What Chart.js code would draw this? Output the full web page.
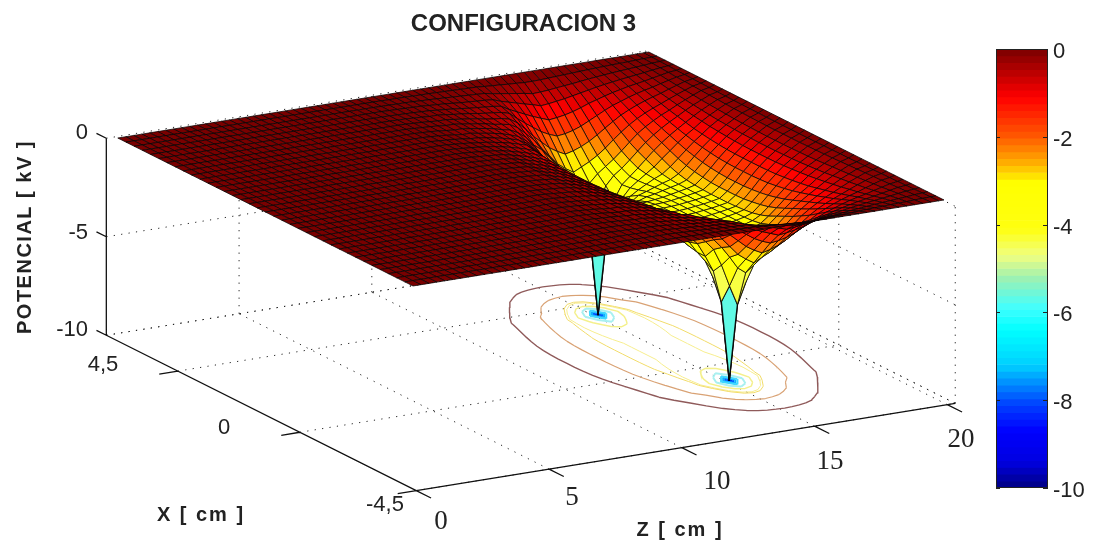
<!DOCTYPE html>
<html>
<head>
<meta charset="utf-8">
<title>CONFIGURACION 3</title>
<script src="https://cdn.jsdelivr.net/npm/chart.js@4/dist/chart.umd.min.js"></script>
<style>
  html, body { margin: 0; background: #fff; }
  #wrap { position: relative; width: 1099px; height: 546px; overflow: hidden; }
  canvas { position: absolute; }
</style>
</head>
<body>
<div id="wrap">
  <canvas id="surface" width="1099" height="546" style="left:0;top:0"></canvas>
  <canvas id="colorbar" width="109" height="480" style="left:990px;top:30px"></canvas>
</div>
<script>
const chartTitle = "CONFIGURACION 3";
const xAxisTitle = "X [ cm ]";
const zAxisTitle = "Z [ cm ]";
const vAxisTitle = "POTENCIAL [ kV ]";

// grid nodes, X is mirrored around 0 when the mesh is built
const xHalf = [0, .25, .5, .75, 1, 1.25, 1.5, 1.75, 2, 2.25, 2.5, 2.75, 3, 3.25, 3.5, 3.75, 4, 4.25, 4.5];
const zNodes = [0, .3, .6, .9, 1.2, 1.5, 1.8, 2.1, 2.4, 2.7, 3, 3.3, 3.6, 3.9, 4.2, 4.5, 4.8, 5.1, 5.4, 5.7,
  6, 6.3, 6.6, 6.9, 7.2, 7.5, 7.8, 8.1, 8.4, 8.7, 9, 9.3, 9.6, 9.9, 10.2, 10.5, 10.8, 11.1, 11.4, 11.7,
  12, 12.3, 12.6, 12.9, 13.2, 13.5, 13.8, 14.1, 14.4, 14.7, 15, 15.3, 15.6, 15.9, 16.2, 16.5, 16.8, 17.1, 17.4, 17.7,
  18, 18.3, 18.6, 18.9, 19.2, 19.5, 19.8, 20];
const wellZ = 15;

// potential in kV, one row per 0.3 cm away from Z = 15, columns follow xHalf
// this one is what the floor contours follow, the sheet uses it further down from the wells
const potentialRows = [
  [-3.3, -3.3, -3.35, -3.45, -3.6, -3.95, -4.6, -6, -10, -6, -3.9, -3, -2.1, -1.38, -.85, -.52, -.3, -.13, 0],
  [-3.3, -3.3, -3.32, -3.4, -3.55, -3.85, -4.2, -5, -6, -5, -3.6, -2.85, -2, -1.32, -.82, -.5, -.3, -.13, 0],
  [-3.25, -3.25, -3.27, -3.32, -3.42, -3.55, -3.8, -4.1, -4.4, -3.9, -3.1, -2.5, -1.85, -1.25, -.78, -.48, -.29, -.12, 0],
  [-3.2, -3.2, -3.2, -3.23, -3.28, -3.36, -3.5, -3.6, -3.6, -3.05, -2.6, -2.15, -1.62, -1.1, -.7, -.46, -.28, -.12, 0],
  [-3.14, -3.14, -3.14, -3.14, -3.14, -3.14, -3.12, -3.03, -2.9, -2.6, -2.2, -1.83, -1.4, -.95, -.62, -.42, -.26, -.11, 0],
  [-3.06, -3.06, -3.05, -3.03, -2.99, -2.93, -2.82, -2.68, -2.5, -2.2, -1.8, -1.42, -1.05, -.72, -.5, -.35, -.22, -.1, 0],
  [-2.65, -2.65, -2.64, -2.62, -2.58, -2.52, -2.42, -2.28, -2.1, -1.87, -1.55, -1.18, -.85, -.58, -.43, -.31, -.2, -.09, 0],
  [-2.28, -2.28, -2.27, -2.24, -2.18, -2.1, -1.98, -1.82, -1.6, -1.35, -1.1, -.82, -.6, -.47, -.37, -.27, -.18, -.08, 0],
  [-1.92, -1.92, -1.9, -1.86, -1.8, -1.7, -1.55, -1.38, -1.2, -1, -.8, -.6, -.5, -.42, -.34, -.25, -.16, -.07, 0],
  [-1.45, -1.44, -1.42, -1.38, -1.32, -1.22, -1.12, -1, -.85, -.72, -.6, -.52, -.46, -.38, -.3, -.22, -.14, -.06, 0],
  [-.98, -.97, -.95, -.92, -.88, -.82, -.76, -.68, -.63, -.58, -.52, -.46, -.4, -.33, -.27, -.2, -.12, -.05, 0],
  [-.78, -.78, -.76, -.74, -.71, -.66, -.61, -.56, -.51, -.46, -.41, -.37, -.32, -.27, -.22, -.16, -.1, -.04, 0],
  [-.63, -.63, -.62, -.6, -.57, -.53, -.49, -.45, -.41, -.37, -.33, -.3, -.26, -.22, -.18, -.13, -.08, -.03, 0],
  [-.48, -.48, -.47, -.46, -.44, -.42, -.39, -.36, -.33, -.3, -.27, -.24, -.21, -.18, -.14, -.1, -.06, -.03, 0],
  [-.36, -.36, -.36, -.35, -.34, -.32, -.3, -.28, -.26, -.24, -.21, -.19, -.16, -.13, -.11, -.08, -.05, -.02, 0],
  [-.26, -.26, -.26, -.25, -.24, -.23, -.22, -.21, -.19, -.17, -.15, -.13, -.11, -.09, -.07, -.05, -.03, -.01, 0],
  [-.14, -.14, -.14, -.15, -.15, -.16, -.17, -.17, -.17, -.17, -.15, -.13, -.11, -.09, -.06, -.04, -.02, -.01, 0],
  [-.1, -.1, -.1, -.1, -.11, -.11, -.12, -.12, -.12, -.12, -.11, -.09, -.08, -.06, -.04, -.03, -.02, -.01, 0],
  [-.07, -.07, -.07, -.07, -.08, -.08, -.08, -.08, -.08, -.08, -.07, -.06, -.05, -.04, -.03, -.02, -.01, 0, 0],
  [-.04, -.04, -.04, -.04, -.05, -.05, -.05, -.05, -.05, -.05, -.04, -.04, -.03, -.02, -.02, -.01, -.01, 0, 0],
  [-.02, -.02, -.02, -.02, -.02, -.02, -.02, -.02, -.02, -.02, -.02, -.02, -.01, -.01, -.01, 0, 0, 0, 0]
];

// the sheet from Z = 15 upward is wider than the floor contours suggest
const upperRows = [
  [-3.3, -3.3, -3.35, -3.45, -3.6, -3.95, -4.6, -6, -10, -6, -4.2, -3.5, -2.8, -2.1, -1.5, -1, -.6, -.25, 0],
  [-3.3, -3.3, -3.32, -3.4, -3.55, -3.85, -4.2, -5, -6, -5, -3.9, -3.3, -2.7, -2.05, -1.45, -.96, -.58, -.25, 0],
  [-3.28, -3.28, -3.3, -3.35, -3.42, -3.55, -3.8, -4.1, -4.4, -3.9, -3.5, -3.1, -2.55, -1.95, -1.38, -.9, -.55, -.24, 0],
  [-3.25, -3.25, -3.26, -3.3, -3.34, -3.42, -3.55, -3.65, -3.7, -3.45, -3.2, -2.85, -2.35, -1.8, -1.28, -.84, -.5, -.22, 0],
  [-3.2, -3.2, -3.2, -3.22, -3.24, -3.28, -3.33, -3.36, -3.35, -3.15, -2.9, -2.55, -2.1, -1.6, -1.15, -.76, -.46, -.2, 0],
  [-3.15, -3.15, -3.14, -3.14, -3.14, -3.14, -3.12, -3.08, -3, -2.8, -2.55, -2.2, -1.82, -1.4, -1, -.68, -.42, -.18, 0],
  [-3.08, -3.08, -3.07, -3.06, -3.05, -3.02, -2.95, -2.8, -2.62, -2.42, -2.18, -1.88, -1.55, -1.2, -.88, -.6, -.37, -.16, 0],
  [-3, -3, -2.98, -2.95, -2.9, -2.8, -2.65, -2.45, -2.25, -2.05, -1.82, -1.58, -1.3, -1.02, -.76, -.52, -.32, -.14, 0],
  [-2.7, -2.7, -2.68, -2.62, -2.55, -2.45, -2.3, -2.12, -1.92, -1.74, -1.54, -1.33, -1.1, -.88, -.65, -.45, -.28, -.12, 0],
  [-2.3, -2.3, -2.27, -2.22, -2.15, -2.05, -1.93, -1.78, -1.62, -1.46, -1.3, -1.12, -.93, -.74, -.56, -.39, -.24, -.1, 0],
  [-1.85, -1.85, -1.83, -1.8, -1.74, -1.67, -1.58, -1.47, -1.35, -1.22, -1.08, -.94, -.78, -.62, -.47, -.33, -.2, -.09, 0],
  [-1.45, -1.45, -1.44, -1.42, -1.38, -1.33, -1.27, -1.2, -1.1, -1, -.9, -.78, -.65, -.52, -.4, -.28, -.17, -.07, 0],
  [-1.1, -1.1, -1.09, -1.07, -1.04, -1, -.96, -.9, -.84, -.77, -.7, -.61, -.53, -.43, -.33, -.23, -.14, -.06, 0],
  [-.8, -.8, -.79, -.78, -.76, -.73, -.7, -.66, -.61, -.56, -.51, -.45, -.39, -.32, -.25, -.18, -.11, -.05, 0],
  [-.55, -.55, -.54, -.53, -.52, -.5, -.47, -.44, -.41, -.38, -.34, -.3, -.26, -.22, -.17, -.12, -.08, -.03, 0],
  [-.3, -.3, -.3, -.29, -.28, -.27, -.26, -.24, -.22, -.2, -.18, -.16, -.14, -.12, -.09, -.07, -.04, -.02, 0],
  [-.14, -.14, -.14, -.14, -.13, -.13, -.12, -.12, -.11, -.1, -.09, -.08, -.07, -.06, -.05, -.03, -.02, -.01, 0]
];

// sheet just below Z = 15, first row is 0.3 cm away from the wells
const lowerRows = [
  [-3.3, -3.3, -3.32, -3.4, -3.55, -3.85, -4.2, -5, -6, -5, -3.9, -3.25, -2.6, -1.95, -1.35, -.88, -.52, -.22, 0],
  [-3.25, -3.25, -3.27, -3.32, -3.42, -3.55, -3.8, -4.1, -4.4, -3.9, -3.3, -2.95, -2.35, -1.75, -1.2, -.78, -.46, -.2, 0],
  [-3.2, -3.2, -3.2, -3.23, -3.28, -3.36, -3.5, -3.6, -3.6, -3.05, -2.75, -2.5, -2, -1.48, -1.02, -.67, -.4, -.17, 0],
  [-3.14, -3.14, -3.14, -3.14, -3.14, -3.14, -3.12, -3.03, -2.9, -2.6, -2.3, -2.05, -1.65, -1.2, -.84, -.56, -.34, -.15, 0],
  [-3.06, -3.06, -3.05, -3.03, -2.99, -2.93, -2.82, -2.68, -2.5, -2.2, -1.85, -1.55, -1.22, -.9, -.65, -.45, -.28, -.12, 0]
];

const contourLevels = [-.6, -1.8, -3, -3.2, -4, -5, -6, -7, -8, -9];
const contourColors = ["#8f5a5a", "#d9a274", "#f2dc6a", "#f7ee8e", "#f4f08c", "#a8f0f0", "#40d8ff", "#10b0ff", "#0060ff", "#0020e0"];
const contourWidths = [1.4, 1.2, 1, 1, 1.5, 2, 2, 2, 2, 2];

// axis limits and ticks
const xLimits = [-4.6, 4.85];
const zLimits = [0, 20.3];
const vLimits = [-10, 0];
const xTicks = [2.67, -1.05, -4.6];
const zTicks = [0, 5, 10, 15, 20];
const vTicks = [0, -5, -10];
const xTickLabels = ["4,5", "0", "-4,5"];
const zTickLabels = ["0", "5", "10", "15", "20"];
const vTickLabels = ["0", "-5", "-10"];
const barTicks = [0, -2, -4, -6, -8, -10];

// colormap as seen on the colour bar
const colorLevels = [0, -1.1, -2, -2.6, -3.05, -4.1, -4.7, -5.2, -5.9, -6.4, -7.2, -7.6, -8.1, -8.7, -9.4, -10];
const colorValues = [
  [122, 0, 0], [255, 0, 0], [255, 90, 0], [255, 176, 0], [255, 255, 0], [255, 255, 16], [240, 255, 128], [160, 240, 176],
  [64, 255, 255], [0, 255, 255], [0, 208, 255], [0, 144, 255], [0, 64, 255], [0, 0, 255], [0, 0, 224], [0, 0, 128]
];
const barSteps = 64;

function colorFor(v) {
  let i = 0;
  while (i < colorLevels.length - 2 && v < colorLevels[i + 1]) i++;
  const t = Math.min(1, Math.max(0, (colorLevels[i] - v) / (colorLevels[i] - colorLevels[i + 1])));
  const a = colorValues[i], b = colorValues[i + 1];
  return `rgb(${a.map((c, k) => Math.round(c + (b[k] - c) * t)).join(",")})`;
}

// view of the 3D box, one kV and one cm in plot units
function project(x, z, v) {
  return {
    x: 265.4 - 32.8 * x + 26.55 * z,
    y: 212 - 16.44 * x - 4.3 * z - 20 * v
  };
}

// the box sits a little lower than the sheet in the original view
function projectBox(x, z, v) {
  return project(x, z, v * .985 - .3);
}

const xNodes = [...xHalf.slice(1).reverse().map(x => -x), ...xHalf];
const nx = xNodes.length, nz = zNodes.length;
const centerCol = xHalf.length - 1;

function floorValue(ix, iz) {
  const z = zNodes[iz];
  if (z >= 20) return 0;
  const row = potentialRows[Math.round(Math.abs(z - wellZ) / 0.3)];
  return row ? row[Math.abs(ix - centerCol)] : 0;
}

function potential(ix, iz) {
  const z = zNodes[iz];
  const col = Math.abs(ix - centerCol);
  if (z >= 20) return 0;
  const away = Math.round(Math.abs(z - wellZ) / 0.3);
  if (z >= wellZ) return upperRows[away][col];
  if (away <= lowerRows.length) return lowerRows[away - 1][col];
  return floorValue(ix, iz);
}

const nodes = [];
for (let iz = 0; iz < nz; iz++) {
  for (let ix = 0; ix < nx; ix++) {
    nodes.push(project(xNodes[ix], zNodes[iz], potential(ix, iz)));
  }
}

const gap = { x: NaN, y: NaN };

function segments(list) {
  const out = [];
  list.forEach(s => out.push(s[0], s[1], gap));
  return out;
}

// floor contours by marching over the grid
function contourData(level) {
  const segs = [];
  for (let iz = 0; iz < nz - 1; iz++) {
    for (let ix = 0; ix < nx - 1; ix++) {
      const corners = [[ix, iz], [ix + 1, iz], [ix + 1, iz + 1], [ix, iz + 1]];
      const hits = [];
      for (let k = 0; k < 4; k++) {
        const p = corners[k], q = corners[(k + 1) % 4];
        const a = floorValue(p[0], p[1]), b = floorValue(q[0], q[1]);
        if ((a > level) !== (b > level)) {
          const t = (level - a) / (b - a);
          hits.push(project(
            xNodes[p[0]] + (xNodes[q[0]] - xNodes[p[0]]) * t,
            zNodes[p[1]] + (zNodes[q[1]] - zNodes[p[1]]) * t,
            vLimits[0]));
        }
      }
      if (hits.length >= 2) segs.push([hits[0], hits[1]]);
      if (hits.length === 4) segs.push([hits[2], hits[3]]);
    }
  }
  return segments(segs);
}

// dotted grid on the floor and the two back walls
const gridSegs = [];
const [xMin, xMax] = xLimits, [zMin, zMax] = zLimits, [vMin, vMax] = vLimits;
xTicks.concat([xMax]).forEach(x => {
  gridSegs.push([projectBox(x, zMin, vMin), projectBox(x, zMax, vMin)]);
  gridSegs.push([projectBox(x, zMax, vMin), projectBox(x, zMax, vMax)]);
});
zTicks.slice(1).concat([zMax]).forEach(z => {
  gridSegs.push([projectBox(xMin, z, vMin), projectBox(xMax, z, vMin)]);
  gridSegs.push([projectBox(xMax, z, vMin), projectBox(xMax, z, vMax)]);
});
vTicks.forEach(v => {
  gridSegs.push([projectBox(xMax, zMin, v), projectBox(xMax, zMax, v)]);
  gridSegs.push([projectBox(xMax, zMax, v), projectBox(xMin, zMax, v)]);
});

// solid axes and their short ticks
const axisSegs = [
  [projectBox(xMax, zMin, vMax), projectBox(xMax, zMin, vMin)],
  [projectBox(xMax, zMin, vMin), projectBox(xMin, zMin, vMin)],
  [projectBox(xMin, zMin, vMin), projectBox(xMin, zMax, vMin)]
];
xTicks.forEach(x => axisSegs.push([projectBox(x, zMin, vMin), projectBox(x, zMin - .7, vMin)]));
zTicks.forEach(z => axisSegs.push([projectBox(xMin, z, vMin), projectBox(xMin - .45, z, vMin)]));
vTicks.forEach(v => axisSegs.push([projectBox(xMax, zMin, v), projectBox(xMax + .3, zMin, v)]));

const lineSet = (data, color, width, dash) => ({
  data, showLine: true, pointRadius: 0, borderColor: color, borderWidth: width, borderDash: dash || [], spanGaps: false
});

const NODE_SET = 0;
const datasets = [
  { data: nodes, showLine: false, pointRadius: 0 },
  lineSet(segments(axisSegs), "#111", 1.3),
  ...contourLevels.map((l, i) => lineSet(contourData(l), contourColors[i], contourWidths[i])),
  lineSet(segments(gridSegs), "#222", 1, [1.2, 6.3])
];

const meshPlugin = {
  id: "mesh",
  afterDatasetsDraw(chart) {
    const pts = chart.getDatasetMeta(NODE_SET).data;
    const at = (ix, iz) => pts[iz * nx + ix];
    const ctx = chart.ctx;
    ctx.save();
    ctx.lineJoin = "round";
    ctx.strokeStyle = "rgba(8,4,4,.95)";
    // far corner first so the near part of the sheet covers what is behind it
    for (let ix = nx - 2; ix >= 0; ix--) {
      for (let iz = nz - 2; iz >= 0; iz--) {
        const a = at(ix, iz), b = at(ix + 1, iz), c = at(ix + 1, iz + 1), d = at(ix, iz + 1);
        const corners = [potential(ix, iz), potential(ix + 1, iz), potential(ix + 1, iz + 1), potential(ix, iz + 1)];
        // leave the lowest corner out, the needle faces stay pale cyan that way
        const shade = (corners.reduce((s, v) => s + v, 0) - Math.min(...corners)) / 3;
        ctx.fillStyle = colorFor(shade);
        ctx.lineWidth = Math.min(...corners) <= -10 ? 1.4 : 0.8;
        ctx.beginPath();
        ctx.moveTo(a.x, a.y);
        ctx.lineTo(b.x, b.y);
        ctx.lineTo(c.x, c.y);
        ctx.lineTo(d.x, d.y);
        ctx.closePath();
        ctx.fill();
        ctx.stroke();
      }
    }
    ctx.restore();
  }
};

const textPlugin = {
  id: "axisText",
  afterDraw(chart) {
    const ctx = chart.ctx, sx = chart.scales.x, sy = chart.scales.y;
    const put = (text, px, py, font, align) => {
      ctx.font = font;
      ctx.textAlign = align || "center";
      ctx.textBaseline = "middle";
      ctx.fillText(text, sx.getPixelForValue(px), sy.getPixelForValue(py));
    };
    ctx.save();
    ctx.fillStyle = "#222";
    const sans = "22px 'Liberation Sans'", serif = "27px 'Liberation Serif'", bold = "bold 20px 'Liberation Sans'";
    [[103, 365], [224, 428], [385, 505]].forEach((p, i) => put(xTickLabels[i], p[0], p[1], sans));
    [[88, 133], [88, 233], [88, 330]].forEach((p, i) => put(vTickLabels[i], p[0], p[1], sans, "right"));
    [[441, 522], [572, 498], [717, 482], [830, 462], [961, 440]].forEach((p, i) => put(zTickLabels[i], p[0], p[1], serif));
    ctx.letterSpacing = "2px";
    put(xAxisTitle, 201, 515, bold);
    put(zAxisTitle, 680, 530, bold);
    ctx.letterSpacing = "1.5px";
    ctx.translate(sx.getPixelForValue(25), sy.getPixelForValue(237));
    ctx.rotate(-Math.PI / 2);
    ctx.font = bold;
    ctx.fillText(vAxisTitle, 0, 0);
    ctx.letterSpacing = "0px";
    ctx.restore();
  }
};

new Chart(document.getElementById("surface"), {
  type: "scatter",
  data: { datasets },
  plugins: [meshPlugin, textPlugin],
  options: {
    responsive: false,
    animation: false,
    events: [],
    layout: { padding: { right: 52 } },
    plugins: {
      legend: { display: false },
      tooltip: { enabled: false },
      title: {
        display: true,
        text: chartTitle,
        fullSize: false,
        color: "#222",
        font: { family: "'Liberation Sans'", size: 24, weight: "bold" },
        padding: { top: 10, bottom: 4 }
      }
    },
    scales: {
      x: { type: "linear", display: false, min: 0, max: 1047 },
      y: { type: "linear", display: false, reverse: true, min: 42.8, max: 546 }
    }
  }
});

// colour bar: a stack of small bars on a real value axis
const barLabels = [""];
const barSets = [];
for (let i = 0; i < barSteps; i++) {
  barSets.push({
    data: [vLimits[0] / barSteps],
    backgroundColor: colorFor(vLimits[0] * (i + .5) / barSteps),
    borderWidth: 0,
    barPercentage: 1,
    categoryPercentage: 1
  });
}

const barFrame = {
  id: "barFrame",
  afterDatasetsDraw(chart) {
    const { ctx, chartArea: a, scales } = chart;
    ctx.save();
    ctx.strokeStyle = "#222";
    ctx.lineWidth = 1;
    ctx.strokeRect(a.left + .5, a.top + .5, a.right - a.left - 1, a.bottom - a.top - 1);
    barTicks.forEach(t => {
      const y = Math.round(scales.y.getPixelForValue(t)) + .5;
      ctx.beginPath();
      ctx.moveTo(a.left, y); ctx.lineTo(a.left + 4, y);
      ctx.moveTo(a.right - 5, y); ctx.lineTo(a.right, y);
      ctx.stroke();
    });
    ctx.restore();
  }
};

new Chart(document.getElementById("colorbar"), {
  type: "bar",
  data: { labels: barLabels, datasets: barSets },
  plugins: [barFrame],
  options: {
    responsive: false,
    animation: false,
    events: [],
    layout: { padding: { left: 6, top: 19, bottom: 22 } },
    plugins: { legend: { display: false }, tooltip: { enabled: false } },
    scales: {
      x: { display: false, stacked: true },
      y: {
        position: "right",
        stacked: true,
        min: vLimits[0],
        max: vLimits[1],
        afterBuildTicks(axis) { axis.ticks = barTicks.map(value => ({ value })); },
        afterFit(axis) { axis.width = 51; },
        grid: { display: false, drawTicks: false, tickLength: 0 },
        border: { display: false },
        ticks: { color: "#222", padding: 5, labelOffset: 3, font: { family: "'Liberation Sans'", size: 22 } }
      }
    }
  }
});
</script>
</body>
</html>
